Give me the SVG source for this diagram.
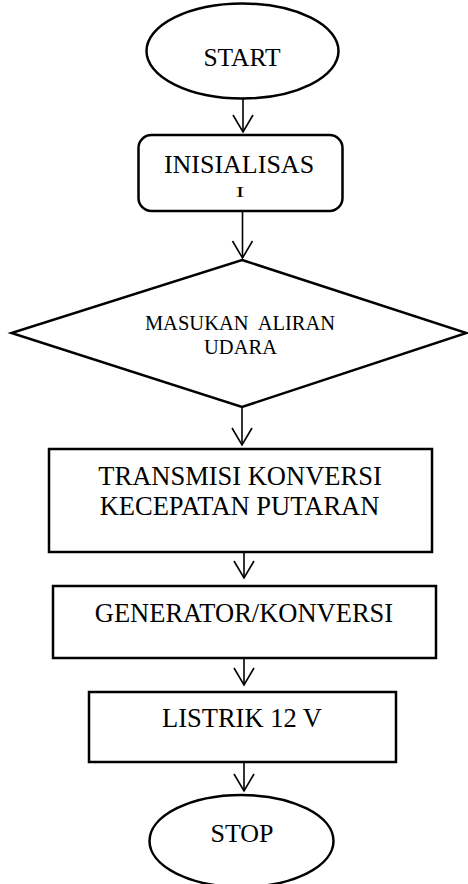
<svg xmlns="http://www.w3.org/2000/svg" width="468" height="884" viewBox="0 0 468 884">
<defs>
<style>
.shape{fill:#fff;stroke:#000;stroke-width:2.5}
.conn{fill:none;stroke:#000;stroke-width:1.6}
.t{font-family:"Liberation Serif","Times New Roman",serif;fill:#000;text-anchor:middle}
</style>
<marker id="arr" viewBox="-1 -12 20 24" refX="17" refY="0" markerWidth="20" markerHeight="24" markerUnits="userSpaceOnUse" orient="auto">
<path d="M0,-10 L17,0 L0,10" fill="none" stroke="#000" stroke-width="1.6"/>
</marker>
</defs>
<rect width="468" height="884" fill="#fff"/>
<g id="start">
<ellipse class="shape" cx="242.5" cy="51" rx="96" ry="47.5"/>
<text class="t" x="242" y="66" font-size="25.5">START</text>
</g>
<g id="inisialisasi">
<rect class="shape" x="138.5" y="135" width="204" height="76" rx="13"/>
<text class="t" x="239" y="173" font-size="26">INISIALISAS</text>
<text class="t" x="240" y="0" font-size="26" transform="translate(0,197) scale(1,0.58)">I</text>
</g>
<g id="masukan">
<polygon class="shape" points="242,260 466.5,333 242,407 11.5,333"/>
<text class="t" x="240" y="330" font-size="20.5" xml:space="preserve">MASUKAN  ALIRAN</text>
<text class="t" x="240.5" y="354" font-size="20.5">UDARA</text>
</g>
<g id="transmisi">
<rect class="shape" x="49" y="449" width="383" height="103"/>
<text class="t" x="240" y="485" font-size="26.5">TRANSMISI KONVERSI</text>
<text class="t" x="239.5" y="515" font-size="26.5">KECEPATAN PUTARAN</text>
</g>
<g id="generator">
<rect class="shape" x="53" y="586" width="383" height="72"/>
<text class="t" x="244" y="622" font-size="26.5">GENERATOR/KONVERSI</text>
</g>
<g id="listrik">
<rect class="shape" x="89" y="692" width="307" height="70"/>
<text class="t" x="242" y="727" font-size="26.5">LISTRIK 12 V</text>
</g>
<g id="stop">
<ellipse class="shape" cx="241.5" cy="841" rx="92" ry="46"/>
<text class="t" x="242" y="842" font-size="26">STOP</text>
</g>
<g id="connectors">
<line class="conn" x1="243" y1="99" x2="243" y2="132" marker-end="url(#arr)"/>
<line class="conn" x1="242.5" y1="211" x2="242.5" y2="258" marker-end="url(#arr)"/>
<line class="conn" x1="242" y1="407" x2="242" y2="445" marker-end="url(#arr)"/>
<line class="conn" x1="244" y1="552" x2="244" y2="578" marker-end="url(#arr)"/>
<line class="conn" x1="244" y1="658" x2="244" y2="685" marker-end="url(#arr)"/>
<line class="conn" x1="244" y1="762" x2="244" y2="791" marker-end="url(#arr)"/>
</g>
</svg>
